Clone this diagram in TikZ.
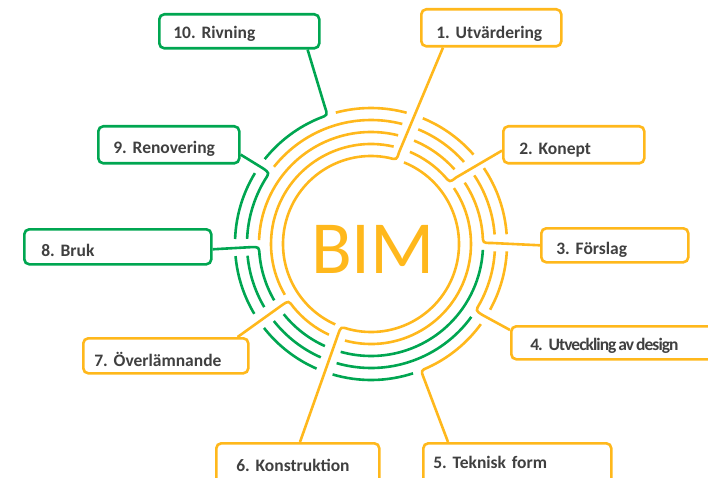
\documentclass[tikz,border=0pt]{standalone}
\usepackage{fontspec}
\setmainfont{Carlito}
\usetikzlibrary{calc}
\definecolor{bimorange}{RGB}{255,184,28}
\definecolor{bimgreen}{RGB}{0,166,81}
\definecolor{labgray}{RGB}{64,64,64}
\frenchspacing
\newcommand\ringarc[4]{\draw[#1] ($(C)+(#2:#4)$) arc[start angle=#2, end angle=#3, radius=#4];}
\newcommand\tracebend[5]{\draw[#1] (#2) -- ($(C)+(#3:#4+8)$) .. controls ($(C)+(#3:#4)$) .. ($(C)+({#3+8/#4*57.3}:#4)$) arc[start angle={#3+8/#4*57.3}, end angle=#5, radius=#4];}
\begin{document}
\begin{tikzpicture}[x=1pt,y=1pt,
  trc/.style={line width=2.6pt},
  otr/.style={trc, draw=bimorange},
  gtr/.style={trc, draw=bimgreen},
  box/.style={draw, rounded corners=5pt, line width=2.6pt, fill=white, anchor=north west,
    inner ysep=0pt, align=left, text=labgray, font=\fontsize{17.5}{20}\selectfont\bfseries\frenchspacing},
  obox/.style={box, draw=bimorange},
  gbox/.style={box, draw=bimgreen}]
\useasboundingbox (0,0) rectangle (708,477);
\clip (0,0) rectangle (708,477);
\coordinate (C) at (371,233);

% boxes
\node[obox, minimum width=140pt, minimum height=37pt, inner xsep=15pt, text width=110pt, text height=22pt, text depth=0pt] (b1) at (420,469) {1. Utvärdering};
\node[obox, minimum width=141pt, minimum height=37pt, inner xsep=16pt, text width=109pt, text height=19pt, text depth=0pt] (b2) at (502,352) {2. Konept};
\node[obox, minimum width=147pt, minimum height=34pt, inner xsep=15pt, text width=117pt, text height=19pt, text depth=0pt] (b3) at (540,250) {3. Förslag};
\node[obox, minimum width=220pt, minimum height=33pt, inner xsep=19pt, text width=182pt, text height=15pt, text depth=0pt] (b4) at (510,152) {\addfontfeature{LetterSpace=-5.5}4. Utveckling\hspace{2pt}av\hspace{2pt}design};
\node[obox, minimum width=188pt, minimum height=60pt, inner xsep=10pt, text width=168pt, text height=10pt, text depth=20pt] (b5) at (422,35) {5. Teknisk form};
\node[obox, minimum width=163pt, minimum height=60pt, inner xsep=20pt, text width=123pt, text height=10pt, text depth=14pt] (b6) at (215,35) {6. Konstruktion};
\node[obox, minimum width=165pt, minimum height=35pt, inner xsep=11pt, text width=143pt, text height=21pt, text depth=0pt] (b7) at (82,140) {7. Överlämnande};
\node[gbox, minimum width=187pt, minimum height=35pt, inner xsep=17pt, text width=153pt, text height=19pt, text depth=0pt] (b8) at (23,249) {8. Bruk};
\node[gbox, minimum width=141pt, minimum height=37pt, inner xsep=15pt, text width=111pt, text height=17pt, text depth=0pt] (b9) at (97,352) {9. Renovering};
\node[gbox, minimum width=160pt, minimum height=34pt, inner xsep=14pt, text width=132pt, text height=14pt, text depth=0pt] (b10) at (158,464) {10. Rivning};

% connector start points on the boxes
\coordinate (a1) at ($(b1.south west)+(23,0)$);
\coordinate (a2) at ($(b2.south west)+(0,14)$);
\coordinate (a3) at (b3.west);
\coordinate (a4) at ($(b4.north west)+(0,-5)$);
\coordinate (a5) at ($(b5.north west)+(26,0)$);
\coordinate (a6) at ($(b6.north west)+(85,0)$);
\coordinate (a7) at ($(b7.north east)+(-12,0)$);
\coordinate (a8) at ($(b8.east)+(0,-2.5)$);
\coordinate (a9) at ($(b9.south east)+(0,10)$);
\coordinate (a10) at ($(b10.south east)+(-13,0)$);

% ring 1 (r=88)
\tracebend{otr}{a1}{73}{88}{246}
\tracebend{otr}{a6}{250}{88}{428}

% ring 2 (r=100)
\tracebend{otr}{a2}{38}{100}{67.1}
\ringarc{otr}{76.9}{210.5}{100}
\tracebend{otr}{a7}{214.5}{100}{245.1}
\ringarc{otr}{254.9}{394}{100}

% ring 3 (r=112)
\tracebend{otr}{a3}{0.5}{112}{33.2}
\ringarc{otr}{41.8}{67.4}{112}
\ringarc{otr}{76.0}{178}{112}
\tracebend{gtr}{a8}{181.5}{112}{210.2}
\ringarc{gtr}{218.8}{245.7}{112}
\ringarc{gtr}{254.3}{357}{112}

% ring 4 (r=124)
\tracebend{gtr}{a9}{145}{124}{177.6}
\ringarc{gtr}{185.4}{210.6}{124}
\ringarc{gtr}{218.4}{246.1}{124}
\ringarc{gtr}{253.9}{324}{124}
\tracebend{otr}{a4}{-32.5}{124}{-3.4}
\ringarc{otr}{4.4}{33.6}{124}
\ringarc{otr}{41.4}{67.6}{124}
\ringarc{otr}{75.4}{141.5}{124}

% ring 5 (r=136)
\tracebend{gtr}{a10}{108.6}{136}{141.4}
\ringarc{gtr}{148.6}{177.9}{136}
\ringarc{gtr}{185.1}{210.9}{136}
\ringarc{gtr}{218.1}{246.4}{136}
\ringarc{gtr}{253.6}{288}{136}
\tracebend{otr}{a5}{-68.5}{136}{-36.1}
\ringarc{otr}{-28.9}{-3.1}{136}
\ringarc{otr}{4.1}{33.9}{136}
\ringarc{otr}{41.1}{67.6}{136}
\ringarc{otr}{74.8}{105}{136}

\node[font=\fontsize{75}{75}\selectfont, text=bimorange, anchor=base, inner sep=0pt] (bim) at (373,204) {BIM};
\end{tikzpicture}
\end{document}
